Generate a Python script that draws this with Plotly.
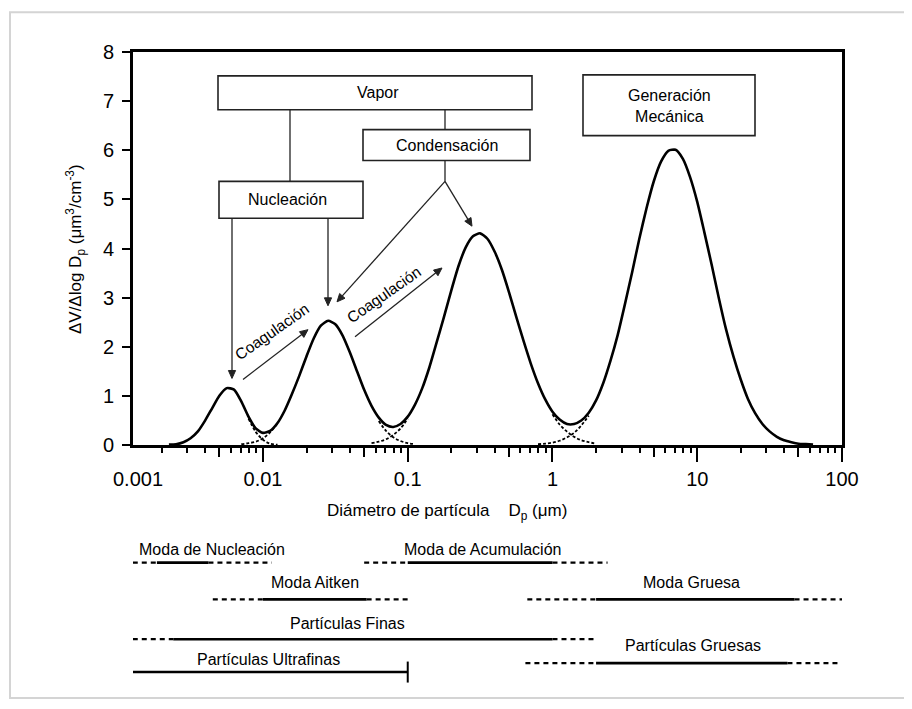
import math
import plotly.graph_objects as go

# ---------------- data ----------------
# total volume distribution (solid curve): diameter (um) and dV/dlogDp
curve_d = [0.00224, 0.00251, 0.00282, 0.00316, 0.00355, 0.00398, 0.00447, 0.00501, 0.00562,
           0.00631, 0.00708, 0.00794, 0.00891, 0.0100, 0.0112, 0.0126, 0.0141, 0.0158, 0.0178,
           0.0200, 0.0224, 0.0251, 0.0282, 0.0316, 0.0355, 0.0398, 0.0447, 0.0501, 0.0562,
           0.0631, 0.0708, 0.0794, 0.0891, 0.100, 0.112, 0.126, 0.141, 0.158, 0.178,
           0.200, 0.224, 0.251, 0.282, 0.316, 0.355, 0.398, 0.447, 0.501, 0.562,
           0.631, 0.708, 0.794, 0.891, 1.00, 1.12, 1.26, 1.41, 1.58, 1.78,
           2.00, 2.24, 2.51, 2.82, 3.16, 3.55, 3.98, 4.47, 5.01, 5.62,
           6.31, 7.08, 7.94, 8.91, 10.0, 11.2, 12.6, 14.1, 15.8, 17.8,
           20.0, 22.4, 25.1, 28.2, 31.6, 35.5, 39.8, 44.7, 50.1, 56.2, 63.1]
curve_v = [0.01, 0.02, 0.06, 0.14, 0.28, 0.50, 0.76, 1.01, 1.16,
           1.13, 0.89, 0.58, 0.34, 0.25, 0.29, 0.45, 0.70, 1.03, 1.41,
           1.81, 2.17, 2.43, 2.53, 2.46, 2.23, 1.89, 1.50, 1.12, 0.80,
           0.56, 0.41, 0.37, 0.43, 0.58, 0.82, 1.16, 1.58, 2.08, 2.61,
           3.15, 3.64, 4.02, 4.25, 4.31, 4.20, 3.94, 3.57, 3.11, 2.61,
           2.12, 1.66, 1.26, 0.93, 0.68, 0.52, 0.43, 0.43, 0.50, 0.66,
           0.91, 1.26, 1.71, 2.24, 2.86, 3.52, 4.20, 4.83, 5.37, 5.77,
           5.99, 6.01, 5.83, 5.46, 4.95, 4.33, 3.66, 2.99, 2.36, 1.80,
           1.33, 0.94, 0.65, 0.43, 0.28, 0.17, 0.10, 0.06, 0.03, 0.02, 0.01]

# individual-mode tails drawn dashed under the minima
tail_nuc_d = [0.00794, 0.00891, 0.0100, 0.0112, 0.0126]
tail_nuc_v = [0.54, 0.27, 0.11, 0.03, 0.01]
tail_ait_l_d = [0.00708, 0.00794, 0.00891, 0.0100, 0.0112, 0.0126]
tail_ait_l_v = [0.02, 0.04, 0.07, 0.14, 0.26, 0.44]
tail_ait_r_d = [0.0631, 0.0708, 0.0794, 0.0891, 0.100, 0.112]
tail_ait_r_v = [0.49, 0.29, 0.16, 0.085, 0.04, 0.02]
tail_acc_l_d = [0.0562, 0.0631, 0.0708, 0.0794, 0.0891, 0.100]
tail_acc_l_v = [0.04, 0.07, 0.12, 0.21, 0.34, 0.54]
tail_acc_r_d = [1.00, 1.12, 1.26, 1.41, 1.58, 1.78, 2.00]
tail_acc_r_v = [0.63, 0.42, 0.275, 0.17, 0.10, 0.06, 0.03]
tail_crs_l_d = [0.794, 0.891, 1.00, 1.12, 1.26, 1.41, 1.58, 1.78]
tail_crs_l_v = [0.02, 0.03, 0.05, 0.09, 0.16, 0.25, 0.40, 0.60]

# axis ticks
x_tick_vals = [0.01, 0.1, 1, 10, 100]
x_tick_text = ["0.01", "0.1", "1", "10", "100"]
x_mid_vals = [0.005, 0.05, 0.5, 5, 50]
y_tick_vals = [0, 1, 2, 3, 4, 5, 6, 7, 8]

# size ranges shown under the chart (um)
band_names = ["Moda de Nucleación", "Moda Aitken", "Moda de Acumulación", "Moda Gruesa",
              "Partículas Finas", "Partículas Ultrafinas", "Partículas Gruesas"]
band_dash_lo = [0.00126, 0.0045, 0.05, 0.67, 0.00126, None, 0.65]
band_solid_lo = [0.00185, 0.0100, 0.10, 2.0, 0.0024, 0.00126, 2.0]
band_solid_hi = [0.0042, 0.052, 1.0, 47, 1.0, 0.1, 42]
band_dash_hi = [0.0115, 0.1, 2.4, 100, 2.0, None, 95]

# ---------------- layout geometry (screen pixels) ----------------
BODY = 8                      # page body margin around the plot div
PL, PT = 133, 52              # screen position of the plot area's top-left corner
W, H = 709, 637               # plot-area width, paper-height used for y mapping
FIG_W, FIG_H = 912 - BODY, 709 - BODY
def px(x):
    return (x - PL) / W
def py(y):
    return (PT + H - y) / H

band_row_y = [565, 602, 565, 602, 642, 675, 666]        # pixel rows of the range lines
band_lab_xy = [(212, 552), (315, 585), (482, 552), (691, 585), (347, 626), (268, 662), (693, 648)]

FONT = "Liberation Sans, Arial, sans-serif"
XRANGE = [-2.898, 2.0]
fig = go.Figure()

fig.add_trace(go.Scatter(x=curve_d, y=curve_v, mode="lines", line=dict(color="black", width=2.6, shape="spline", smoothing=0.6),
                         hoverinfo="skip", showlegend=False))
for td, tv in [(tail_nuc_d, tail_nuc_v), (tail_ait_l_d, tail_ait_l_v), (tail_ait_r_d, tail_ait_r_v),
               (tail_acc_l_d, tail_acc_l_v), (tail_acc_r_d, tail_acc_r_v), (tail_crs_l_d, tail_crs_l_v)]:
    fig.add_trace(go.Scatter(x=td, y=tv, mode="lines", line=dict(color="black", width=1.8, dash="3px,2px", shape="spline"),
                             hoverinfo="skip", showlegend=False))
# same curve on the overlaid axis that carries the 5x ticks (invisible)
fig.add_trace(go.Scatter(x=curve_d, y=curve_v, xaxis="x2", yaxis="y", mode="lines", line=dict(width=0),
                         opacity=0, hoverinfo="skip", showlegend=False))

# range lines in lower panel (y2 value = pixel distance from bottom of the mapped paper)
for i, name in enumerate(band_names):
    yv = PT + H - band_row_y[i]
    if band_dash_lo[i] is not None:
        fig.add_trace(go.Scatter(x=[band_dash_lo[i], band_solid_lo[i]], y=[yv, yv], xaxis="x", yaxis="y2", mode="lines",
                                 line=dict(color="black", width=2.2, dash="5px,4px"), hoverinfo="skip", showlegend=False))
    if band_dash_hi[i] is not None:
        fig.add_trace(go.Scatter(x=[band_solid_hi[i], band_dash_hi[i]], y=[yv, yv], xaxis="x", yaxis="y2", mode="lines",
                                 line=dict(color="black", width=2.2, dash="5px,4px"), hoverinfo="skip", showlegend=False))
    fig.add_trace(go.Scatter(x=[band_solid_lo[i], band_solid_hi[i]], y=[yv, yv], xaxis="x", yaxis="y2", mode="lines",
                             line=dict(color="black", width=2.6), hoverinfo="skip", showlegend=False, cliponaxis=False))
    if band_dash_hi[i] is None:
        fig.add_trace(go.Scatter(x=[band_solid_hi[i]], y=[yv], xaxis="x", yaxis="y2", mode="markers",
                                 marker=dict(symbol="line-ns-open", size=15, color="black", line=dict(color="black", width=2)),
                                 hoverinfo="skip", showlegend=False, cliponaxis=False))
    lx, ly = band_lab_xy[i]
    fig.add_annotation(x=px(lx), y=py(ly), xref="paper", yref="paper", xanchor="center", yanchor="middle",
                       text=name, showarrow=False, font=dict(family=FONT, size=16, color="black"))

shapes = []
def box(x0, y0, x1, y1):
    shapes.append(dict(type="rect", xref="paper", yref="paper", x0=px(x0), x1=px(x1), y0=py(y1), y1=py(y0),
                       line=dict(color="#222", width=1.6), fillcolor="white", layer="above"))
def seg(x0, y0, x1, y1, w=1.3):
    shapes.append(dict(type="line", xref="paper", yref="paper", x0=px(x0), x1=px(x1), y0=py(y0), y1=py(y1),
                       line=dict(color="#222", width=w), layer="above"))
def arrow(tail, head, hl=8.0, hw=3.6):
    dx, dy = head[0] - tail[0], head[1] - tail[1]
    n = math.hypot(dx, dy)
    ux, uy = dx / n, dy / n
    bx, by = head[0] - hl * ux, head[1] - hl * uy
    seg(tail[0], tail[1], bx + ux, by + uy)
    pts = [(head[0], head[1]), (bx - hw * uy, by + hw * ux), (bx + hw * uy, by - hw * ux)]
    path = "M " + " L ".join(f"{px(a):.5f},{py(b):.5f}" for a, b in pts) + " Z"
    shapes.append(dict(type="path", xref="paper", yref="paper", path=path, fillcolor="#222",
                       line=dict(color="#222", width=1), layer="above"))

box(218, 76, 532, 110)
box(363, 130, 530, 161)
box(219, 182, 363, 219)
box(583, 75, 755, 136)
seg(290, 110, 290, 182)
seg(445, 110, 445, 130)
seg(445, 161, 445, 182)
for t0, h0 in [((232, 219), (232, 380)), ((328, 219), (328, 307)), ((445, 182), (337, 303)), ((445, 182), (472, 227)),
               ((243, 381), (308, 331)), ((355, 338), (442, 269))]:
    arrow(t0, h0)
# outer frame of the picture
shapes.append(dict(type="rect", xref="paper", yref="paper", x0=px(10), x1=px(905), y0=py(701), y1=py(12),
                   line=dict(color="#d4d4d4", width=2), layer="below"))

for (tx, ty, lab) in [(378, 93, "Vapor"), (447, 146, "Condensación"), (287, 200, "Nucleación"),
                      (669, 106, "Generación<br>Mecánica")]:
    fig.add_annotation(x=px(tx), y=py(ty), xref="paper", yref="paper", text=lab, showarrow=False,
                       xanchor="center", yanchor="middle", font=dict(family=FONT, size=16, color="black"))

for (tx, ty) in [(272, 333), (384, 296)]:
    fig.add_annotation(x=px(tx), y=py(ty), xref="paper", yref="paper", text="Coagulación", showarrow=False,
                       xanchor="center", yanchor="middle", textangle=-35, font=dict(family=FONT, size=15.5, color="black"))

# axis texts
fig.add_annotation(x=px(75), y=py(250), xref="paper", yref="paper", textangle=-90, showarrow=False,
                   xanchor="center", yanchor="middle",
                   text="ΔV/Δlog D<sub>p</sub> (μm<sup>3</sup>/cm<sup>-3</sup>)", font=dict(family=FONT, size=17, color="black"))
fig.add_annotation(x=px(447), y=py(514), xref="paper", yref="paper", showarrow=False, xanchor="center", yanchor="middle",
                   text="Diámetro de partícula\u00a0\u00a0\u00a0\u00a0D<sub>p</sub> (μm)", font=dict(family=FONT, size=17, color="black"))
fig.add_annotation(x=px(138), y=py(481), xref="paper", yref="paper", showarrow=False, xanchor="center", yanchor="middle",
                   text="0.001", font=dict(family=FONT, size=20, color="black"))

minor_vals = [m * 10 ** e for e in range(-3, 2) for m in (2, 3, 4, 6, 7, 8, 9)]

fig.update_layout(
    width=FIG_W, height=FIG_H,
    margin=dict(l=PL - BODY, r=FIG_W - (PL - BODY) - W, t=PT - BODY, b=FIG_H - (PT - BODY) - H),
    paper_bgcolor="white", plot_bgcolor="white", shapes=shapes,
    font=dict(family=FONT, color="black"),
    xaxis=dict(type="log", range=XRANGE, anchor="y", showgrid=False, zeroline=False,
               showline=True, linecolor="black", linewidth=2.6, mirror=True,
               tickmode="array", tickvals=x_tick_vals, ticktext=x_tick_text,
               ticks="outside", ticklen=14, tickwidth=2, tickcolor="black",
               tickfont=dict(family=FONT, size=20, color="black"),
               minor=dict(tickmode="array", tickvals=minor_vals, ticks="outside", ticklen=5, tickwidth=1.6,
                          tickcolor="black", showgrid=False)),
    xaxis2=dict(type="log", range=XRANGE, overlaying="x", anchor="y", side="bottom", showgrid=False, zeroline=False,
                showline=False, tickmode="array", tickvals=x_mid_vals, showticklabels=False,
                ticks="outside", ticklen=11, tickwidth=2, tickcolor="black"),
    yaxis=dict(domain=[py(447), 1.0], range=[0, 8], showgrid=False, zeroline=False,
               showline=True, linecolor="black", linewidth=2.6, mirror=True,
               tickmode="array", tickvals=y_tick_vals, ticks="outside", ticklen=8, tickwidth=2, tickcolor="black",
               tickfont=dict(family=FONT, size=20, color="black"), ticklabelstandoff=4),
    yaxis2=dict(domain=[0, py(540)], range=[0, PT + H - 540], visible=False, anchor="x", fixedrange=True),
)

fig.write_html("out.html")
